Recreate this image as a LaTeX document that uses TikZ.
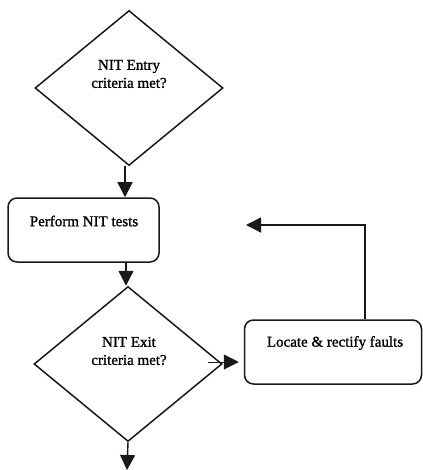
\documentclass[tikz,border=0pt]{standalone}
\usepackage{fontspec}
\setmainfont{Liberation Serif}
\newfontfamily\scanfont[FakeBold=1.2]{Liberation Serif}
\usetikzlibrary{shapes.geometric,arrows.meta}
\tikzset{
  dec/.style={draw=black!90,line width=1.5pt,shape=diamond,inner sep=0pt,minimum width=#1,minimum height=155pt,aspect=1.2},
  proc/.style={draw=black!90,line width=1.5pt,rounded corners=9pt,inner sep=0pt},
  txt/.style={font=\fontsize{15}{18}\selectfont\scanfont,align=center,text=black,inner sep=0pt},
  flow/.style={draw=black!90,line width=1.4pt,-{Triangle[length=15pt,width=15pt]}}
}
\begin{document}
\begin{tikzpicture}[x=1pt,y=-1pt]
\useasboundingbox (0,0) rectangle (422,470);
\fill[white] (0,0) rectangle (422,470);
\node[dec=188pt] (d1) at (129,88) {};
\node[proc,minimum width=151pt,minimum height=64pt] (r1) at (83.5,230) {};
\node[dec=188pt] (d2) at (128,364) {};
\node[proc,minimum width=177pt,minimum height=64pt] (r2) at (333,352) {};
\node[txt] (t1) at (129,74) {NIT Entry\\criteria met?};
\node[txt] (t2) at (84,221) {Perform NIT tests};
\node[txt] (t3) at (129,351) {NIT Exit\\criteria met?};
\node[txt] (t4) at (335,343) {Locate \& rectify faults};
\coordinate (end) at (127,470);
\coordinate (a1) at (125,180);
\coordinate (a2) at (126,275);
\coordinate (back) at (246,225);
\coordinate (corner) at (365,225);
\coordinate (s2) at (208,362);
\draw[flow] (a1 |- d1.south) -- (a1 |- r1.north);
\draw[flow] (a2 |- r1.south) -- (a2 |- d2.north);
\draw[flow] (d2.south) -- (end);
\draw[flow,line width=1pt,shorten >=5pt] (s2) -- (r2.west |- s2);
\draw[flow] (r2.north -| corner) -- (corner) -- (back);
\end{tikzpicture}
\end{document}
